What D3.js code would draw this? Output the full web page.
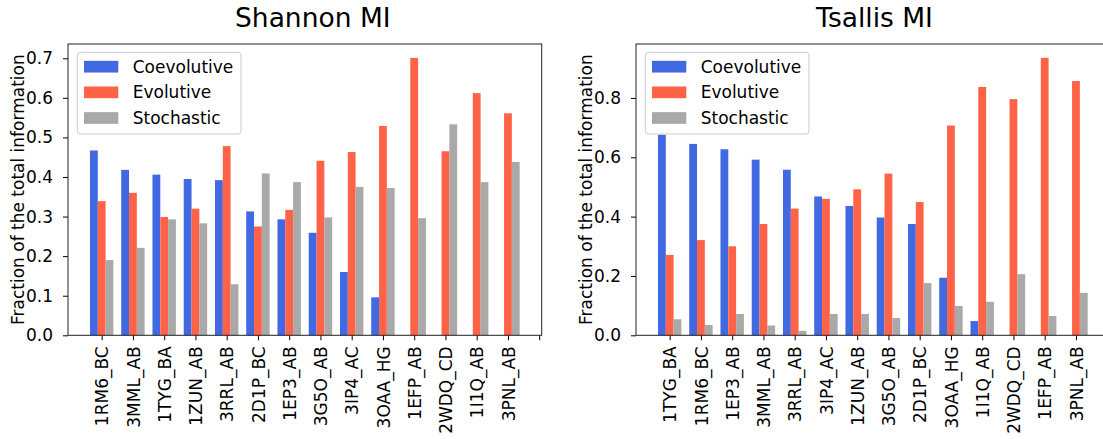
<!DOCTYPE html>
<html>
<head>
<meta charset="utf-8">
<script src="https://cdn.jsdelivr.net/npm/d3@7"></script>
<style>
  html, body { margin: 0; padding: 0; background: #fff; }
  svg { display: block; font-family: "DejaVu Sans", sans-serif; }
</style>
</head>
<body>
<svg id="chart" width="1103" height="439"></svg>
<script>
// Shannon mutual information, per complex
const shannonCategories = ["1RM6_BC","3MML_AB","1TYG_BA","1ZUN_AB","3RRL_AB","2D1P_BC","1EP3_AB","3G5O_AB","3IP4_AC","3OAA_HG","1EFP_AB","2WDQ_CD","1I1Q_AB","3PNL_AB"];
const shannonCoevolutive = [0.467,0.418,0.406,0.395,0.392,0.313,0.293,0.259,0.160,0.096,0,0,0,0];
const shannonEvolutive   = [0.339,0.360,0.299,0.320,0.478,0.275,0.317,0.441,0.463,0.529,0.701,0.465,0.612,0.561];
const shannonStochastic  = [0.190,0.221,0.293,0.283,0.129,0.409,0.387,0.298,0.375,0.372,0.296,0.533,0.387,0.438];
const shannonTicks = [0,0.1,0.2,0.3,0.4,0.5,0.6,0.7];

// Tsallis mutual information, per complex
const tsallisCategories = ["1TYG_BA","1RM6_BC","1EP3_AB","3MML_AB","3RRL_AB","3IP4_AC","1ZUN_AB","3G5O_AB","2D1P_BC","3OAA_HG","1I1Q_AB","2WDQ_CD","1EFP_AB","3PNL_AB"];
const tsallisCoevolutive = [0.676,0.645,0.627,0.592,0.558,0.468,0.436,0.397,0.375,0.194,0.048,0,0,0];
const tsallisEvolutive   = [0.271,0.321,0.300,0.375,0.427,0.460,0.492,0.545,0.449,0.707,0.837,0.796,0.935,0.857];
const tsallisStochastic  = [0.054,0.035,0.072,0.033,0.015,0.072,0.072,0.058,0.176,0.099,0.113,0.206,0.065,0.143];
const tsallisTicks = [0,0.2,0.4,0.6,0.8];

const seriesNames = ["Coevolutive","Evolutive","Stochastic"];
const seriesColors = ["#4169E1","#FF6347","#A9A9A9"];

const svg = d3.select("#chart");
const fmt = d3.format(".1f");

function drawPanel(opts) {
  const { left, right, top, bottom, title, titleX, categories, series, yTicks } = opts;
  const n = categories.length;
  const x = d3.scaleLinear().domain([-1.078, 14.08]).range([left, right]);
  const yMax = d3.max(series.flat()) * 1.05;
  const y = d3.scaleLinear().domain([0, yMax]).range([bottom, top]);
  const barW = x(0.25) - x(0);

  const g = svg.append("g");

  // bars
  series.forEach((vals, si) => {
    g.append("g").selectAll("rect")
      .data(vals.map((v, i) => ({ v, i })).filter(d => d.v > 0))
      .join("rect")
      .attr("x", d => x(d.i + (si - 1) * 0.25) - barW / 2)
      .attr("width", barW)
      .attr("y", d => y(d.v))
      .attr("height", d => y(0) - y(d.v))
      .attr("fill", seriesColors[si]);
  });

  // y axis
  const yAxis = g.append("g")
    .attr("transform", `translate(${left},0)`)
    .call(d3.axisLeft(y).tickValues(yTicks).tickFormat(fmt).tickSize(5).tickPadding(10));
  yAxis.select(".domain").remove();
  yAxis.selectAll("text").attr("font-size", 17).attr("fill", "#000").attr("font-family", "DejaVu Sans");
  yAxis.selectAll("line").attr("stroke", "#000");

  // x axis: one tick per complex plus a trailing unlabeled tick
  const xTickVals = d3.range(n + 1);
  const xAxis = g.append("g")
    .attr("transform", `translate(0,${bottom})`)
    .call(d3.axisBottom(x).tickValues(xTickVals).tickFormat(i => categories[i] || "").tickSize(5).tickPadding(6));
  xAxis.select(".domain").remove();
  xAxis.selectAll("line").attr("stroke", "#000");
  xAxis.selectAll("text")
    .attr("font-size", 17).attr("fill", "#000").attr("font-family", "DejaVu Sans")
    .attr("text-anchor", "end")
    .attr("transform", "rotate(-90)")
    .attr("x", -11).attr("y", 0).attr("dy", "0.36em");

  // frame
  g.append("rect")
    .attr("x", left).attr("y", top)
    .attr("width", right - left).attr("height", bottom - top)
    .attr("fill", "none").attr("stroke", "#222").attr("stroke-width", 1);

  // y label
  g.append("text")
    .attr("transform", `translate(${left - 50},${(top + bottom) / 2}) rotate(-90)`)
    .attr("text-anchor", "middle").attr("dy", "0.35em")
    .attr("font-size", 17).text("Fraction of the total information");

  // title
  g.append("text")
    .attr("x", titleX).attr("y", 27)
    .attr("text-anchor", "middle")
    .attr("font-size", 26.5).text(title);

  // legend
  const lx = left + 9.3, ly = top + 8.3;
  const lg = g.append("g").attr("transform", `translate(${lx},${ly})`);
  lg.append("rect")
    .attr("width", 163.7).attr("height", 81.7).attr("rx", 3)
    .attr("fill", "#fff").attr("fill-opacity", 0.8)
    .attr("stroke", "#ccc");
  seriesNames.forEach((name, i) => {
    const cy = 14.4 + i * 25.65;
    lg.append("rect")
      .attr("x", 6.7).attr("y", cy - 5.85)
      .attr("width", 34.3).attr("height", 11.7)
      .attr("fill", seriesColors[i]);
    lg.append("text")
      .attr("x", 55.4).attr("y", cy).attr("dy", "0.35em")
      .attr("font-size", 17).text(name);
  });
}

drawPanel({
  left: 68, right: 541.7, top: 44, bottom: 335.3,
  title: "Shannon MI", titleX: 312.8,
  categories: shannonCategories,
  series: [shannonCoevolutive, shannonEvolutive, shannonStochastic],
  yTicks: shannonTicks
});

drawPanel({
  left: 636, right: 1109.7, top: 44, bottom: 335.3,
  title: "Tsallis MI", titleX: 874.5,
  categories: tsallisCategories,
  series: [tsallisCoevolutive, tsallisEvolutive, tsallisStochastic],
  yTicks: tsallisTicks
});
</script>
</body>
</html>
